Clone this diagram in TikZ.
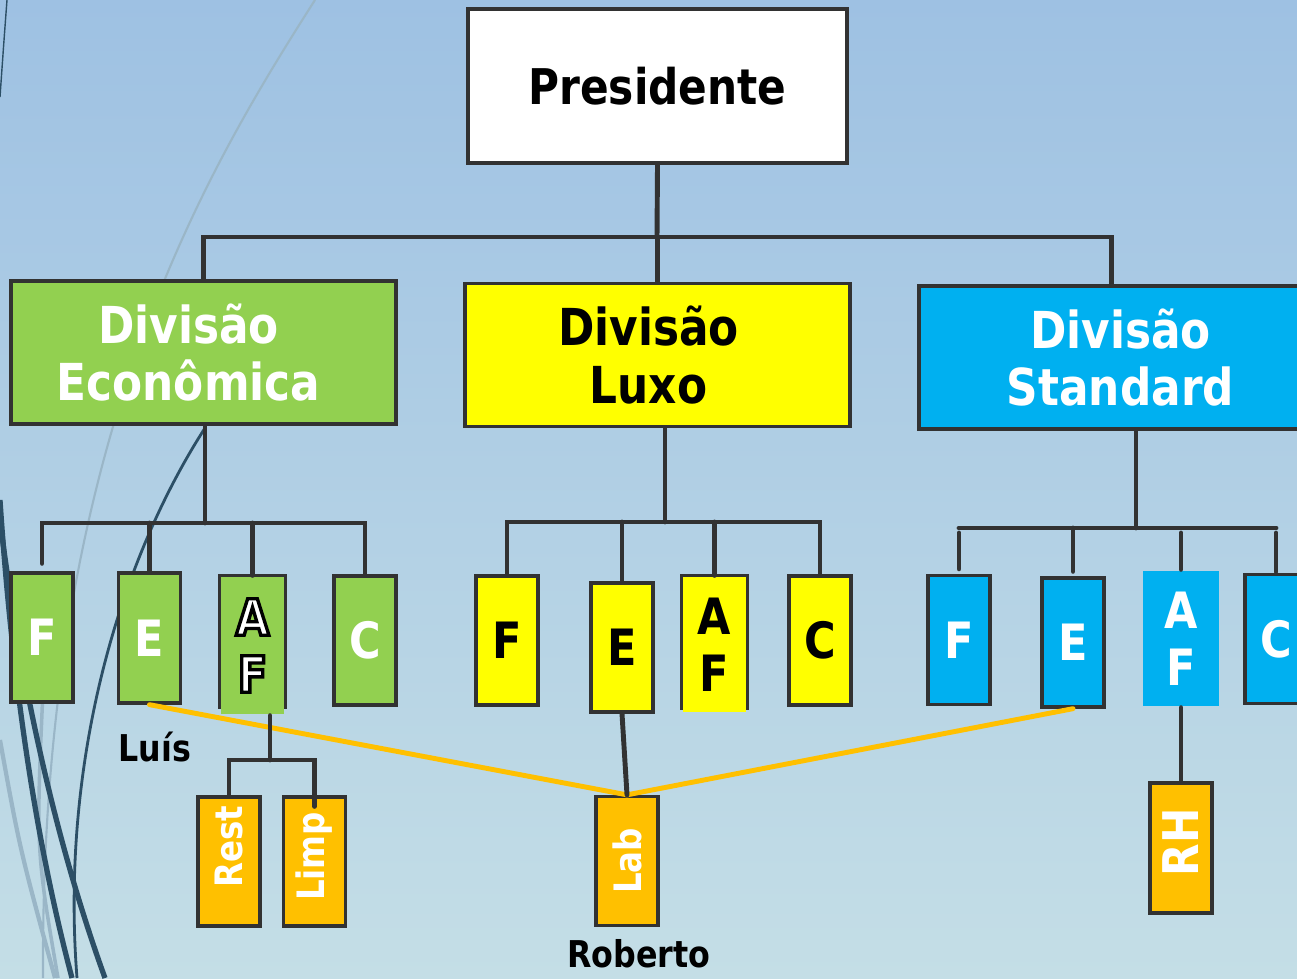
\documentclass[tikz,border=0pt]{standalone}
\usepackage{fontspec}
\setmainfont{DejaVu Sans}[FakeStretch=0.86]

\definecolor{bgtop}{RGB}{158,193,227}
\definecolor{bgbottom}{RGB}{196,222,230}
\definecolor{linegray}{RGB}{50,50,50}
\definecolor{darkcurve}{RGB}{44,79,102}
\definecolor{lightcurve}{RGB}{154,182,199}
\definecolor{greenfill}{RGB}{146,208,80}
\definecolor{yellowfill}{RGB}{255,255,0}
\definecolor{cyanfill}{RGB}{0,176,240}
\definecolor{orangefill}{RGB}{255,192,0}

% white letters with a black rim
\newcommand\rimtext[1]{\special{pdf:literal direct 2 Tr 1.9 w 0 0 0 RG}#1\special{pdf:literal direct 0 Tr}}

\begin{document}
\begin{tikzpicture}[x=0.02cm, y=-0.02cm,
  boxline/.style={draw=linegray, line width=1.9pt},
  link/.style={draw=linegray, line width=2.8pt, line cap=round},
  staff/.style={draw=orangefill, line width=2.8pt, line cap=round},
  divbox/.style={boxline, minimum width=7.7cm, minimum height=2.86cm, align=center, inner sep=0pt, font=\fontsize{29}{32.5}\selectfont\bfseries},
  unitbox/.style={boxline, minimum width=1.24cm, minimum height=2.58cm, align=center, inner sep=0pt, font=\fontsize{28.5}{32.5}\selectfont\bfseries},
  subbox/.style={unitbox, fill=orangefill, text=white, font=\fontsize{21.5}{24}\selectfont\bfseries},
  namelabel/.style={font=\fontsize{21}{24}\selectfont\bfseries}]

% 1. Background and the curves on the left
\useasboundingbox (0,0) rectangle (1297,978);
\clip (0,0) rectangle (1297,978);
\shade[top color=bgtop, bottom color=bgbottom] (0,0) rectangle (1297,978);
\draw[darkcurve, line width=0.8pt] (7,0) .. controls (4,40) .. (0,97);
\draw[lightcurve, line width=1.2pt] (315,0) .. controls (200,180) and (40,450) .. (43,978);
\draw[lightcurve, line width=2.4pt] (0,740) .. controls (20,850) .. (55,978);
\draw[lightcurve, line width=2pt] (43,690) .. controls (36,850) .. (58,978);
\draw[darkcurve, line width=3pt] (0,500) .. controls (10,650) and (30,820) .. (72,978);
\draw[darkcurve, line width=3pt] (0,520) .. controls (20,680) and (55,840) .. (105,978);
\draw[darkcurve, line width=1.6pt] (205,428) .. controls (120,560) and (60,760) .. (77,978);

% 2. Presidente and the three divisions
\node[boxline, fill=white, line width=2.2pt, minimum width=7.58cm, minimum height=3.08cm, font=\fontsize{28}{32}\selectfont\bfseries] (pres) at (657.5,86) {Presidente};
\node[divbox, fill=greenfill, text=white] (econ) at (203.5,352.5) {Divisão\hspace*{0.6cm}\\Econômica\hspace*{0.6cm}};
\node[divbox, fill=yellowfill] (luxo) at (657.5,355) {Divisão\hspace*{0.36cm}\\Luxo\hspace*{0.36cm}};
\node[divbox, fill=cyanfill, text=white] (stdr) at (1111.5,357.5) {\hspace*{0.36cm}Divisão\\\hspace*{0.36cm}Standard};

% 3. Units of Divisão Econômica
\node[unitbox, fill=greenfill, text=white] (ecoF) at (42,637.5) {F};
\node[unitbox, fill=greenfill, text=white, minimum height=2.6cm] (ecoE) at (149.5,638) {E};
\node[unitbox, draw=none, fill=greenfill, text=white, minimum width=1.26cm, minimum height=2.74cm] (ecoAF) at (252.5,645.5) {\rimtext{A}\\\rimtext{F}};
\draw[boxline] ([yshift=0.14cm]ecoAF.south west) -- (ecoAF.north west) -- (ecoAF.north east) -- ([yshift=0.14cm]ecoAF.south east);
\node[unitbox, fill=greenfill, text=white] (ecoC) at (365,640.5) {C};

% 4. Units of Divisão Luxo
\node[unitbox, fill=yellowfill] (luxF) at (507,640.5) {F};
\node[unitbox, fill=yellowfill] (luxE) at (622,647.5) {E};
\node[unitbox, draw=none, fill=yellowfill, minimum width=1.26cm, minimum height=2.7cm] (luxAF) at (714.5,644.5) {A\\F};
\draw[boxline, line width=1.4pt] ([yshift=0.08cm]luxAF.south west) -- (luxAF.north west) -- (luxAF.north east) -- ([yshift=0.08cm]luxAF.south east);
\node[unitbox, fill=yellowfill] (luxC) at (820,640.5) {C};

% 5. Units of Divisão Standard
\node[unitbox, fill=cyanfill, text=white] (stdF) at (959,640) {F};
\node[unitbox, fill=cyanfill, text=white] (stdE) at (1073,642.5) {E};
\node[unitbox, draw=none, fill=cyanfill, text=white, minimum width=1.52cm, minimum height=2.7cm] (stdAF) at (1181,638.5) {A\\F};
\node[unitbox, fill=cyanfill, text=white] (stdC) at (1276,639) {C};

% 6. Sub-units and names
\node[subbox] (rest) at (229,861.5) {\rotatebox{90}{\hspace*{0.6cm}Rest}};
\node[subbox] (limp) at (314.5,861.5) {\rotatebox{90}{\hspace*{0.2cm}Limp}};
\node[subbox] (lab) at (627,861) {\rotatebox{90}{Lab}};
\node[subbox, minimum height=2.6cm, font=\fontsize{28}{30}\selectfont\bfseries] (rh) at (1181,848) {\rotatebox{90}{\hspace*{0.24cm}RH}};
\node[namelabel] (luis) at (155,747) {Luís};
\node[namelabel] (roberto) at (639,954) {Roberto};

% 7. Staff lines to the Lab
\draw[staff] (ecoE.south) -- (lab.north);
\draw[staff] (stdE.south) -- (lab.north);

% 8. Tree connectors
\coordinate (presJ) at (657,237);
\draw[link] (pres.south) -- (presJ);
\draw[link] (econ.north) |- (presJ) -| (stdr.north);
\draw[link] (luxo.north) -- (luxo.north |- presJ);

\coordinate (ecoJ) at (205,523);
\draw[link] (econ.south -| ecoJ) -- (ecoJ);
\draw[link, shorten <=0.16cm] (ecoF.north) |- (ecoJ) -| (ecoC.north);
\draw[link] (ecoE.north) -- (ecoE.north |- ecoJ);
\draw[link] (ecoAF.north) -- (ecoAF.north |- ecoJ);

\coordinate (luxJ) at (665,522);
\draw[link] (luxo.south -| luxJ) -- (luxJ);
\draw[link] (luxF.north) |- (luxJ) -| (luxC.north);
\draw[link] (luxE.north) -- (luxE.north |- luxJ);
\draw[link] (luxAF.north) -- (luxAF.north |- luxJ);

\coordinate (stdJ) at (1136,528);
\draw[link] (stdr.south -| stdJ) -- (stdJ);
\draw[link] (stdF.north |- stdJ) -- (stdC.north |- stdJ);
\draw[link, shorten <=0.1cm, shorten >=0.1cm] (stdF.north |- stdJ) -- (stdF.north);
\draw[link, shorten >=0.1cm] (stdE.north |- stdJ) -- (stdE.north);
\draw[link, shorten <=0.1cm] (stdAF.north |- stdJ) -- (stdAF.north);
\draw[link, shorten <=0.1cm, shorten >=0.02cm] (stdC.north |- stdJ) -- (stdC.north);

\coordinate (afJ) at (270,760);
\draw[link] (ecoAF.south -| afJ) -- (afJ);
\draw[link] (rest.north) |- (afJ) -| ([yshift=-0.22cm]limp.north);
\draw[link] (luxE.south) -- (lab.north);
\draw[link] (stdAF.south) -- (rh.north);

\end{tikzpicture}
\end{document}
